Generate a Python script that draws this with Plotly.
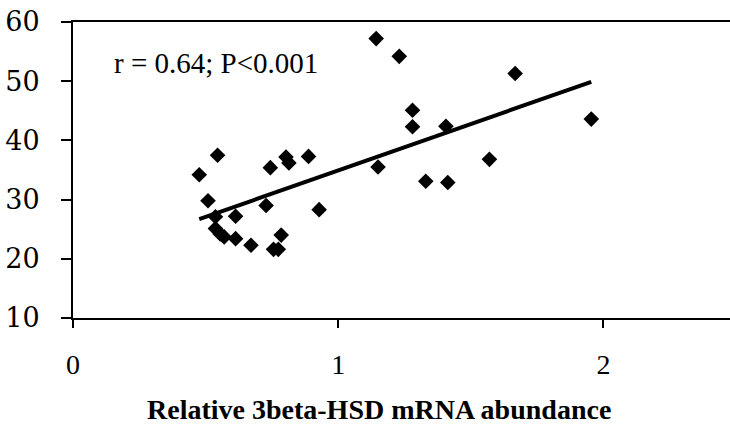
import plotly.graph_objects as go

# Relative 3beta-HSD mRNA abundance vs. measured value
mrna = [0.476, 0.545, 0.509, 0.537, 0.537, 0.555, 0.570, 0.613, 0.613, 0.671,
        0.728, 0.744, 0.756, 0.774, 0.785, 0.803, 0.814, 0.888, 0.928, 1.150,
        1.143, 1.230, 1.667, 1.280, 1.280, 1.406, 1.954, 1.330, 1.413, 1.570]
value = [34.2, 37.5, 29.8, 27.1, 25.1, 24.2, 23.7, 27.2, 23.4, 22.3,
         29.0, 35.4, 21.6, 21.6, 24.0, 37.2, 36.2, 37.3, 28.3, 35.5,
         57.2, 54.2, 51.3, 45.1, 42.3, 42.4, 43.6, 33.1, 32.9, 36.8]

# Regression line end points
trend_x = [0.476, 1.954]
trend_y = [26.7, 49.9]

x_ticks = [0, 1, 2]
y_ticks = [10, 20, 30, 40, 50, 60]
stat_label = "r = 0.64; P<0.001"
x_title = "Relative 3beta-HSD mRNA abundance"

fig = go.Figure()
fig.add_trace(go.Scatter(
    x=mrna, y=value, mode="markers",
    marker=dict(symbol="diamond", size=12, color="black"),
    showlegend=False, hoverinfo="skip",
))
fig.add_trace(go.Scatter(
    x=trend_x, y=trend_y, mode="lines",
    line=dict(color="black", width=4),
    showlegend=False, hoverinfo="skip",
))

fig.add_annotation(
    x=0.147, y=53.1, xref="x", yref="y", text=stat_label,
    showarrow=False, xanchor="left", yanchor="middle",
    font=dict(family="Liberation Serif", size=29, color="black"),
)

# Axis title, placed as a bold caption under the tick labels
fig.add_annotation(
    x=0.466, y=-0.31, xref="paper", yref="paper", text=x_title,
    showarrow=False, xanchor="center", yanchor="middle",
    font=dict(family="Liberation Serif", size=28, color="black", weight="bold"),
)

fig.update_layout(
    width=730, height=436,
    margin=dict(l=72.6, r=0, t=21.7, b=118),
    paper_bgcolor="white", plot_bgcolor="white",
    xaxis=dict(
        range=[0, 2.477], tickvals=x_ticks, ticktext=[str(v) for v in x_ticks],
        showgrid=False, zeroline=False, showline=True, linecolor="black",
        linewidth=2, mirror=True, ticks="outside", ticklen=8, tickwidth=2,
        tickcolor="black", ticklabelstandoff=12,
        tickfont=dict(family="Liberation Serif", size=28, color="black"),
    ),
    yaxis=dict(
        range=[10, 60], tickvals=y_ticks,
        showgrid=False, zeroline=False, showline=True, linecolor="black",
        linewidth=2, ticks="outside", ticklen=10, tickwidth=2,
        tickcolor="black", ticklabelstandoff=16,
        tickfont=dict(family="DejaVu Serif", size=27, color="black"),
    ),
)

fig.write_html("out.html")
